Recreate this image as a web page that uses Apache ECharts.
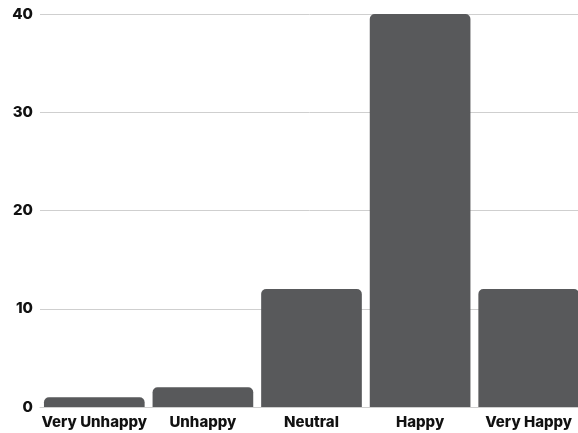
<!DOCTYPE html>
<html>
<head>
<meta charset="utf-8">
<script src="https://cdn.jsdelivr.net/npm/echarts@6/dist/echarts.min.js"></script>
<style>
  html, body { margin: 0; padding: 0; background: #fff; }
  #chart { width: 578px; height: 433px; }
</style>
</head>
<body>
<div id="chart"></div>
<script>
const categories = ["Very Unhappy", "Unhappy", "Neutral", "Happy", "Very Happy"]
const counts = [1, 2, 12, 40, 12]
const yTicks = [0, 10, 20, 30, 40]

const chart = echarts.init(document.getElementById("chart"))
chart.setOption({
  animation: false,
  grid: {
    left: 40, top: 14, width: 543, height: 393,
    containLabel: false,
    outerBoundsMode: "none"
  },
  xAxis: {
    type: "category",
    data: categories,
    axisLine: { lineStyle: { color: "#cfcfcf" } },
    axisTick: { show: false },
    axisLabel: {
      color: "#111",
      fontFamily: "Inter",
      fontWeight: 800,
      fontSize: 15,
      margin: 8,
      interval: 0
    }
  },
  yAxis: {
    type: "value",
    min: yTicks[0],
    max: yTicks[yTicks.length - 1],
    interval: 10,
    axisLine: { show: false },
    axisTick: { show: false },
    splitLine: { lineStyle: { color: "#cfcfcf" } },
    axisLabel: {
      color: "#111",
      fontFamily: "Inter",
      fontWeight: 800,
      fontSize: 15,
      margin: 7
    }
  },
  series: [
    {
      type: "bar",
      data: counts,
      barCategoryGap: "7.3%",
      itemStyle: { color: "#58595b", borderRadius: [5, 5, 0, 0] }
    }
  ]
})
</script>
</body>
</html>
